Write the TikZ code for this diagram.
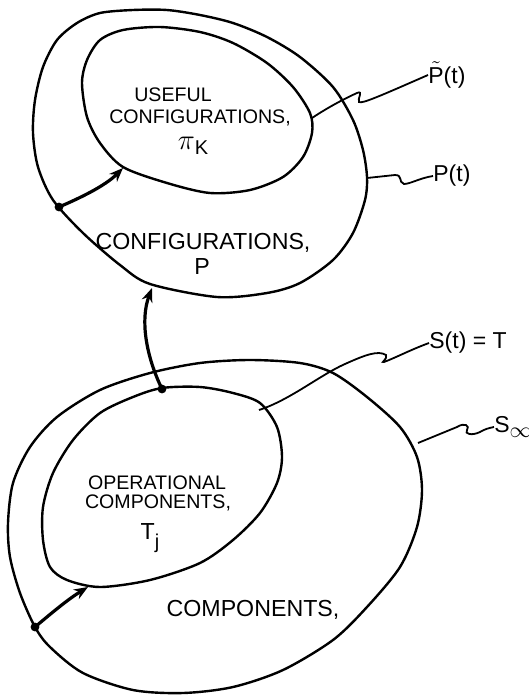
\documentclass[tikz,border=0pt]{standalone}
\usepackage{fontspec}
\setmainfont{Liberation Sans}
\usetikzlibrary{arrows.meta}

\tikzset{
  region/.style={line width=1.2pt},
  lead/.style={line width=0.9pt},
  flow/.style={line width=1.6pt,-{Stealth[length=7pt,width=5.5pt]}},
  inlabel/.style={font=\fontsize{9.8}{11}\selectfont},
  outlabel/.style={font=\fontsize{11.6}{13}\selectfont},
  tag/.style={font=\fontsize{11.5}{13}\selectfont,anchor=west,inner sep=0pt},
}

\begin{document}
\begin{tikzpicture}[x=0.5pt,y=-0.5pt]
\useasboundingbox (0,0) rectangle (529,696);

% Configurations P
\draw[region] plot[smooth cycle] coordinates {
  (43,67) (35,100) (33,133) (38,167) (53,200) (83,233) (120,265) (150,284)
  (217,297) (267,293) (300,283) (333,260) (353,233) (365,200) (367,177)
  (363,150) (353,120) (333,87) (300,57) (267,37) (233,23) (200,15) (167,10)
  (133,10) (100,13) (77,23) (57,40)};

% Useful configurations
\draw[region] plot[smooth cycle] coordinates {
  (82,83) (87,60) (100,40) (123,30) (160,27) (200,32) (233,43) (267,63)
  (293,87) (310,113) (312,133) (303,157) (283,177) (250,190) (210,193)
  (167,183) (123,167) (100,143) (87,117)};

% Components S_infty
\draw[region] plot[smooth cycle] coordinates {
  (35,627) (20,593) (10,557) (8,523) (13,483) (30,447) (57,417) (100,390)
  (150,373) (200,363) (250,360) (300,363) (333,373) (367,397) (400,427)
  (417,457) (422,490) (417,527) (400,567) (367,607) (333,640) (283,670)
  (233,687) (183,693) (133,690) (83,673) (50,647)};

% Operational components
\draw[region] plot[smooth cycle] coordinates {
  (162,388) (200,387) (233,393) (260,403) (277,427) (282,457) (277,483)
  (260,513) (233,540) (200,563) (150,580) (100,587) (67,580) (50,567)
  (43,540) (43,507) (53,473) (73,440) (100,413) (133,397)};

% Texts
\node[inlabel] (use1) at (173,95) {USEFUL};
\node[inlabel] (use2) at (200,118) {CONFIGURATIONS,};
\node[font=\fontsize{15}{17}\selectfont] (use3) at (193,146)
  {$\pi$\raisebox{-0.35ex}{\fontsize{10}{12}\selectfont K}};
\node[outlabel] (conf1) at (203,243) {CONFIGURATIONS,};
\node[outlabel] (conf2) at (202,267) {P};
\node[inlabel] (oper1) at (157,483) {OPERATIONAL};
\node[inlabel] (oper2) at (158,503) {COMPONENTS,};
\node[outlabel] (oper3) at (150,538)
  {T\raisebox{-0.7ex}{\fontsize{10}{12}\selectfont j}};
\node[outlabel] (comp) at (253,610) {COMPONENTS,};

% Dots and arrow ends
\coordinate (dotP) at (59,207);
\coordinate (tipU) at (123,168);
\coordinate (dotT) at (162,389);
\coordinate (tipP) at (152,288);
\coordinate (dotS) at (35,627);
\coordinate (tipT) at (88,587);
\fill (dotP) circle (2.2pt);
\fill (dotT) circle (2.2pt);
\fill (dotS) circle (2.2pt);

\draw[flow] (dotP) .. controls (80,198) and (105,186) .. (tipU);
\draw[flow] (dotT) .. controls (146,356) and (140,320) .. (tipP);
\draw[flow] (dotS) .. controls (55,610) and (70,598) .. (tipT);

% Tags on the right
\node[tag] (ptil) at (428,75) {$\tilde{\mbox{P}}$(t)};
\node[tag] (pt) at (433,176) {P(t)};
\node[tag] (st) at (429,343) {S(t) = T};
\node[tag] (sinf) at (494,427)
  {S\raisebox{-0.4ex}{\fontsize{11}{12}\selectfont$\infty$}};

\coordinate (aU) at (312,118);
\coordinate (aP) at (367,178);
\coordinate (aT) at (259,410);
\coordinate (aS) at (418,443);
\draw[lead] (aU) .. controls (330,106) and (348,97) .. (357,93)
  .. controls (364,90) and (357,99) .. (359,102)
  .. controls (362,104) and (380,96) .. (ptil.west);
\draw[lead] (aP) -- (395,175) .. controls (403,175) and (398,182) .. (404,184)
  .. controls (410,184) and (420,178) .. (pt.west);
\draw[lead] (aT) .. controls (290,400) and (320,375) .. (345,364)
  .. controls (365,355) and (378,350) .. (386,355)
  .. controls (388,359) and (380,363) .. (384,362)
  .. controls (395,358) and (410,350) .. (st.west);
\draw[lead] (aS) -- (457,427) .. controls (465,422) and (470,426) .. (467,430)
  .. controls (464,434) and (472,436) .. (480,432)
  .. controls (485,429) and (489,428) .. (sinf.west);
\end{tikzpicture}
\end{document}
